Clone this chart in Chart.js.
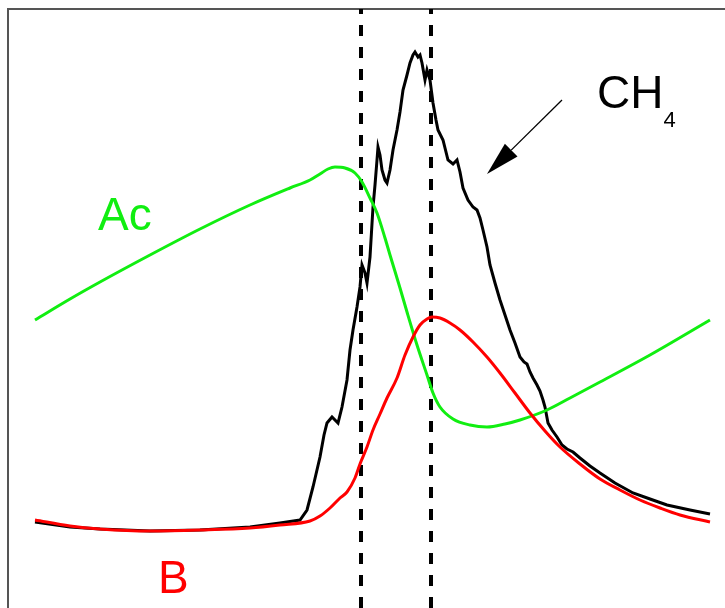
<!DOCTYPE html>
<html>
<head>
<meta charset="utf-8">
<script src="https://cdn.jsdelivr.net/npm/chart.js@4.4.1/dist/chart.umd.min.js"></script>
<style>
  html, body { margin: 0; padding: 0; background: #ffffff; }
  #wrap { width: 725px; height: 608px; position: relative; }
</style>
</head>
<body>
<div id="wrap"><canvas id="c" width="725" height="608"></canvas></div>
<script>
// ---- data (time, arbitrary units) ----
const acX = [2.7, 6.2, 9.2, 14.2, 19.2, 24.2, 28.2, 30.2, 31.2, 32.0, 32.7, 33.7, 34.7, 35.4, 36.2, 36.9, 37.7, 38.2, 39.2, 39.9, 40.9, 41.9, 42.5, 43.2, 44.5, 46.2, 47.9, 49.7, 51.2, 53.9, 56.2, 59.2, 64.2, 70.2];
const acY = [28.8, 30.9, 32.6, 35.3, 37.9, 40.3, 42.0, 42.8, 43.4, 43.9, 44.1, 44.0, 43.5, 42.6, 41.0, 39.5, 37.0, 35.3, 32.0, 29.6, 26.3, 23.3, 21.5, 20.1, 18.9, 18.3, 18.1, 18.4, 18.8, 19.8, 21.0, 22.6, 25.3, 28.8];

const bX = [2.7, 6.2, 9.2, 14.2, 19.2, 24.2, 27.2, 30.2, 31.2, 32.2, 33.2, 33.9, 34.7, 35.2, 35.9, 36.5, 37.2, 37.9, 38.9, 39.7, 40.5, 41.2, 41.9, 42.4, 43.2, 44.2, 45.2, 46.5, 47.9, 49.2, 50.7, 52.2, 53.7, 55.2, 57.2, 59.2, 61.2, 63.2, 65.2, 67.2, 70.2];
const bY = [8.8, 8.2, 7.9, 7.7, 7.8, 8.0, 8.3, 8.7, 9.2, 10.0, 11.0, 11.6, 13.0, 14.4, 16.1, 17.8, 19.4, 21.0, 23.0, 25.3, 27.1, 28.3, 28.9, 29.1, 29.0, 28.5, 27.8, 26.6, 25.1, 23.5, 21.5, 19.5, 17.7, 16.1, 14.4, 12.9, 11.8, 10.8, 10.0, 9.3, 8.6];

const ch4X = [2.7, 6.2, 9.2, 14.2, 19.2, 24.2, 27.2, 29.2, 29.9, 30.5, 31.2, 31.6, 31.9, 32.4, 33.0, 33.4, 33.9, 34.2, 34.5, 34.9, 35.2, 35.4, 35.7, 35.9, 36.2, 36.5, 36.7, 36.9, 37.0, 37.2, 37.4, 37.7, 37.9, 38.2, 38.5, 38.9, 39.2, 39.5, 39.9, 40.2, 40.5, 40.7, 41.0, 41.2, 41.4, 41.7, 41.9, 42.2, 42.5, 42.8, 43.0, 43.5, 44.0, 44.5, 44.9, 45.2, 45.5, 46.0, 46.5, 46.9, 47.2, 47.5, 47.9, 48.2, 48.7, 49.2, 49.7, 50.2, 50.7, 51.2, 51.6, 51.9, 52.2, 52.5, 52.9, 53.2, 53.5, 53.7, 54.0, 54.4, 54.9, 55.4, 55.9, 56.5, 57.2, 58.2, 59.2, 60.7, 62.5, 64.2, 65.9, 68.2, 70.2];
const ch4Y = [8.6, 8.1, 7.9, 7.7, 7.8, 8.1, 8.5, 8.8, 9.8, 12.1, 15.1, 17.3, 18.5, 19.1, 18.5, 20.1, 22.8, 25.8, 27.8, 30.1, 32.1, 34.3, 33.5, 32.5, 35.1, 40.1, 42.3, 44.8, 46.1, 45.3, 43.8, 42.8, 42.5, 43.8, 45.8, 47.8, 49.6, 51.8, 53.3, 54.5, 55.3, 55.6, 55.1, 55.3, 54.5, 52.8, 53.8, 52.8, 50.5, 48.8, 47.8, 46.8, 44.8, 44.4, 44.8, 43.6, 42.0, 40.8, 40.1, 39.8, 39.0, 37.8, 36.1, 34.3, 32.5, 30.8, 29.3, 27.8, 26.5, 25.1, 24.6, 24.4, 23.6, 23.0, 22.3, 21.7, 20.8, 20.1, 18.5, 17.8, 17.1, 16.3, 15.9, 15.6, 15.0, 14.2, 13.5, 12.5, 11.5, 10.9, 10.3, 9.8, 9.4];

// vertical dashed markers (time positions)
const markerX = [35.3, 42.3];

// annotation: arrow tail / head, label positions
const arrowFrom = [55.4, 50.8];
const arrowTo = [47.9, 43.4];
const labelAc = { text: "Ac", x: 9.0, y: 37.8 };
const labelB = { text: "B", x: 15.0, y: 1.5 };
const labelCH = { text: "CH", sub: "4", x: 58.9, y: 50.0 };

const xMin = 0, xMax = 71.7, yMin = 0, yMax = 59.9;

const GREEN = "#11ee11";
const RED = "#ff0000";

function pts(xs, ys) { return xs.map((x, i) => ({ x: x, y: ys[i] })); }

const annotations = {
  id: "annotations",
  afterDatasetsDraw(chart) {
    const ctx = chart.ctx;
    const sx = chart.scales.x, sy = chart.scales.y;
    ctx.save();
    // arrow
    const x1 = sx.getPixelForValue(arrowFrom[0]), y1 = sy.getPixelForValue(arrowFrom[1]);
    const x2 = sx.getPixelForValue(arrowTo[0]), y2 = sy.getPixelForValue(arrowTo[1]);
    const ang = Math.atan2(y2 - y1, x2 - x1);
    const headLen = 34, headHalf = 9;
    const bx = x2 - headLen * Math.cos(ang), by = y2 - headLen * Math.sin(ang);
    ctx.strokeStyle = "#000";
    ctx.lineWidth = 1.3;
    ctx.beginPath();
    ctx.moveTo(x1, y1);
    ctx.lineTo(bx, by);
    ctx.stroke();
    ctx.fillStyle = "#000";
    ctx.beginPath();
    ctx.moveTo(x2, y2);
    ctx.lineTo(bx + headHalf * Math.sin(ang), by - headHalf * Math.cos(ang));
    ctx.lineTo(bx - headHalf * Math.sin(ang), by + headHalf * Math.cos(ang));
    ctx.closePath();
    ctx.fill();
    // labels
    ctx.textAlign = "left";
    ctx.textBaseline = "alphabetic";
    ctx.font = "46px 'Liberation Sans', Arial, sans-serif";
    ctx.fillStyle = GREEN;
    ctx.fillText(labelAc.text, sx.getPixelForValue(labelAc.x), sy.getPixelForValue(labelAc.y));
    ctx.fillStyle = RED;
    ctx.fillText(labelB.text, sx.getPixelForValue(labelB.x), sy.getPixelForValue(labelB.y));
    ctx.fillStyle = "#000";
    const cx = sx.getPixelForValue(labelCH.x), cy = sy.getPixelForValue(labelCH.y);
    ctx.fillText(labelCH.text, cx, cy);
    const w = ctx.measureText(labelCH.text).width;
    ctx.font = "22px 'Liberation Sans', Arial, sans-serif";
    ctx.fillText(labelCH.sub, cx + w, cy + 19);
    ctx.restore();
  }
};

const markerSets = markerX.map(mx => ({
  data: [{ x: mx, y: yMin }, { x: mx, y: yMax }],
  borderColor: "#000",
  borderWidth: 4,
  borderDash: [11, 11],
  pointRadius: 0,
  order: 3
}));

new Chart(document.getElementById("c"), {
  type: "line",
  data: {
    datasets: [
      { label: "B", data: pts(bX, bY), borderColor: RED, borderWidth: 3, pointRadius: 0, cubicInterpolationMode: "monotone", order: 0 },
      { label: "Ac", data: pts(acX, acY), borderColor: GREEN, borderWidth: 3, pointRadius: 0, cubicInterpolationMode: "monotone", order: 1 },
      { label: "CH4", data: pts(ch4X, ch4Y), borderColor: "#000", borderWidth: 3, pointRadius: 0, tension: 0, order: 2 },
      ...markerSets
    ]
  },
  options: {
    responsive: false,
    animation: false,
    parsing: true,
    layout: { padding: { left: 8, top: 9, right: 0, bottom: 0 } },
    plugins: { legend: { display: false }, tooltip: { enabled: false } },
    scales: {
      x: {
        type: "linear", position: "top", min: xMin, max: xMax,
        ticks: { display: false },
        grid: { display: false, drawTicks: false },
        border: { display: true, color: "#555", width: 2 }
      },
      y: {
        type: "linear", position: "left", min: yMin, max: yMax,
        ticks: { display: false },
        grid: { display: false, drawTicks: false },
        border: { display: true, color: "#555", width: 2 }
      }
    }
  },
  plugins: [annotations]
});
</script>
</body>
</html>
